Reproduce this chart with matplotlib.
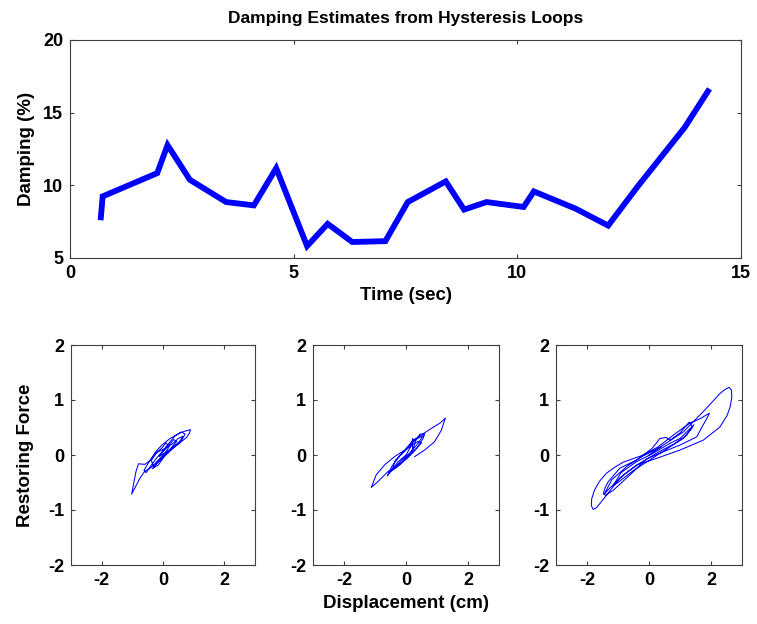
import matplotlib
matplotlib.use("Agg")
import matplotlib.pyplot as plt

plt.rcParams['font.family'] = ['Liberation Sans', 'DejaVu Sans']
plt.rcParams['font.weight'] = 'bold'
plt.rcParams['axes.unicode_minus'] = False

# ---- Data ----
time_sec = [0.69, 0.73, 1.95, 2.18, 2.68, 3.49, 4.11, 4.61, 5.30, 5.76, 6.31, 7.05,
            7.55, 8.40, 8.81, 9.31, 10.14, 10.37, 11.30, 12.03, 12.69, 13.74, 14.26]
damping = [7.8, 9.24, 10.84, 12.77, 10.38, 8.85, 8.62, 11.18, 5.82, 7.35, 6.1, 6.16,
           8.85, 10.27, 8.33, 8.85, 8.51, 9.58, 8.4, 7.23, 9.92, 13.98, 16.47]

disp1 = [-0.10, 0.23, 0.55, 0.77, 0.86, 0.90, 0.75, 0.55, 0.23, -0.04, -0.25, -0.42, -0.59,
         -0.80, -0.88, -0.95, -1.02, -0.90, -0.75, -0.60, -0.42, -0.30, -0.10, 0.15, 0.40,
         0.62, 0.72, 0.60, 0.40, 0.20, 0.00, -0.20, -0.40, -0.55, -0.62, -0.45, -0.25,
         -0.05, 0.10, 0.20, 0.05, -0.15, -0.30, -0.38, -0.20, 0.00, 0.30, 0.50, 0.65, 0.50,
         0.25, 0.00, -0.20, -0.35, -0.15, 0.05, 0.25, 0.45, 0.35, 0.10, -0.12]
force1 = [-0.02, 0.10, 0.22, 0.32, 0.40, 0.46, 0.44, 0.40, 0.30, 0.18, 0.05, -0.10, -0.17,
          -0.16, -0.30, -0.50, -0.71, -0.58, -0.42, -0.30, -0.24, -0.18, -0.06, 0.05, 0.18,
          0.28, 0.38, 0.42, 0.35, 0.22, 0.08, -0.05, -0.20, -0.32, -0.28, -0.12, 0.02,
          0.12, 0.22, 0.15, 0.02, -0.12, -0.22, -0.10, 0.05, 0.10, 0.20, 0.30, 0.34, 0.20,
          0.08, -0.05, -0.15, -0.25, -0.18, -0.02, 0.12, 0.25, 0.28, 0.12, -0.02]

disp2 = [0.28, 0.60, 0.92, 1.14, 1.27, 1.10, 0.92, 0.70, 0.49, 0.23, -0.04, -0.37, -0.69,
         -0.96, -1.12, -0.90, -0.58, -0.15, 0.10, 0.35, 0.55, 0.60, 0.45, 0.30, 0.20, 0.22,
         0.15, 0.00, -0.25, -0.50, -0.60, -0.45, -0.20, 0.05, 0.25, 0.40, 0.50, 0.30, 0.05,
         -0.25, -0.45, -0.35, -0.10, 0.10, 0.30, 0.55, 0.40, 0.15, -0.15, -0.40, -0.55,
         -0.30, 0.00, 0.20]
force2 = [-0.03, 0.09, 0.24, 0.45, 0.67, 0.58, 0.52, 0.44, 0.36, 0.27, 0.09, -0.03, -0.18,
          -0.36, -0.59, -0.48, -0.30, -0.15, -0.02, 0.12, 0.30, 0.38, 0.38, 0.25, 0.05, 0.30,
          0.15, 0.00, -0.12, -0.30, -0.38, -0.20, -0.02, 0.12, 0.20, 0.25, 0.22, 0.10, -0.05,
          -0.20, -0.28, -0.10, 0.05, 0.15, 0.28, 0.35, 0.22, 0.05, -0.10, -0.25, -0.32,
          -0.22, -0.05, 0.08]

disp3 = [0.00, 0.46, 1.11, 1.75, 2.10, 2.29, 2.45, 2.58, 2.66, 2.67, 2.62, 2.52, 2.29, 2.00,
         1.75, 1.00, 0.25, -0.40, -0.94, -1.37, -1.55, -1.70, -1.80, -1.86, -1.85, -1.76,
         -1.60, -1.37, -1.10, -0.83, -0.18, 0.30, 0.78, 1.32, 1.65, 1.95, 1.85, 1.70, 1.54,
         1.00, 0.46, -0.10, -0.61, -1.15, -1.40, -1.47, -1.42, -1.31, -0.94, -0.40, 0.10,
         0.35, 0.55, 0.68, 1.00, 1.30, 1.40, 1.10, 0.60, 0.00, -0.50, -1.00, -1.15, -0.90,
         -0.40, 0.10, 0.70, 1.00, 1.45, 1.20, 0.80, 0.30, -0.30, -0.80, -1.30, -1.45,
         -1.20, -0.70, -0.20, 0.40]
force3 = [0.00, 0.18, 0.42, 0.79, 1.00, 1.12, 1.19, 1.23, 1.18, 1.05, 0.88, 0.72, 0.51, 0.38,
          0.27, 0.09, -0.06, -0.18, -0.42, -0.73, -0.86, -0.96, -0.99, -0.92, -0.80, -0.64,
          -0.48, -0.33, -0.22, -0.13, 0.00, 0.15, 0.36, 0.58, 0.66, 0.76, 0.65, 0.50, 0.33,
          0.18, 0.06, -0.08, -0.36, -0.64, -0.73, -0.70, -0.60, -0.48, -0.24, -0.09, 0.12,
          0.30, 0.32, 0.27, 0.40, 0.60, 0.50, 0.30, 0.12, -0.10, -0.28, -0.50, -0.55, -0.32,
          -0.12, 0.02, 0.22, 0.30, 0.55, 0.35, 0.20, 0.05, -0.15, -0.35, -0.62, -0.72,
          -0.45, -0.20, -0.02, 0.15]

loops = [(disp1, force1), (disp2, force2), (disp3, force3)]

title_text = "Damping Estimates from Hysteresis Loops"
top_xticks = [0, 5, 10, 15]
top_yticks = [5, 10, 15, 20]
bot_xticks = [-2, 0, 2]
bot_yticks = [-2, -1, 0, 1, 2]

# ---- Figure ----
fig = plt.figure(figsize=(7.57, 6.24), dpi=100)
W, H = 757, 624

def add_ax(l, r, t, b):
    return fig.add_axes([l / W, 1 - b / H, (r - l) / W, (b - t) / H])

def style(ax):
    for s in ax.spines.values():
        s.set_color('#404040')
        s.set_linewidth(0.8)
    ax.tick_params(direction='in', top=True, right=True, length=3, width=0.8,
                   color='#404040', labelsize=13, pad=5)
    for lab in ax.get_xticklabels() + ax.get_yticklabels():
        lab.set_fontweight('bold')

ax0 = add_ax(70, 741, 40, 258)
ax0.plot(time_sec, damping, color='blue', lw=4.2, solid_joinstyle='miter')
ax0.set_xlim(0, 15)
ax0.set_ylim(5, 20)
ax0.set_xticks(top_xticks)
ax0.set_yticks(top_yticks)
style(ax0)
ax0.set_title(title_text, fontsize=12.5, fontweight='bold', pad=12)
ax0.set_xlabel("Time (sec)", fontsize=13.5, fontweight='bold', labelpad=4)
ax0.set_ylabel("Damping (%)", fontsize=13.5, fontweight='bold', labelpad=6)

bpos = [(71, 255), (313, 499), (556, 742)]
axes_b = []
for i, ((l, r), (dx, fy)) in enumerate(zip(bpos, loops)):
    ax = add_ax(l, r, 345, 565)
    ax.plot(dx, fy, color='blue', lw=0.75)
    ax.set_xlim(-3, 3)
    ax.set_ylim(-2, 2)
    ax.set_xticks(bot_xticks)
    ax.set_yticks(bot_yticks)
    style(ax)
    axes_b.append(ax)

axes_b[0].set_ylabel("Restoring Force", fontsize=13.5, fontweight='bold', labelpad=10)
axes_b[1].set_xlabel("Displacement (cm)", fontsize=13.5, fontweight='bold', labelpad=4)

fig.savefig("out.png", dpi=100, facecolor='white')
